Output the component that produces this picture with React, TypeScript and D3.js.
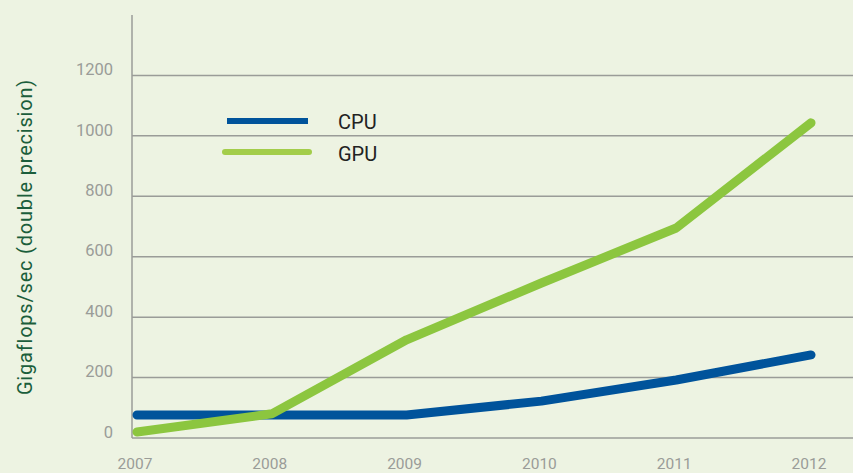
import * as d3 from "d3";

const years = [2007, 2008, 2009, 2010, 2011, 2012];
const cpuValues = [76, 76, 76, 122, 192, 275];
const gpuValues = [20, 80, 325, 513, 695, 1043];
const yTicks = [0, 200, 400, 600, 800, 1000, 1200];

const W = 853;
const H = 473;

const App = () => {
  const x = d3.scaleLinear().domain([2007, 2012]).range([137, 811]);
  const y = d3.scaleLinear().domain([0, 1400]).range([438, 15]);

  const line = d3
    .line<number>()
    .x((_, i) => x(years[i]))
    .y((d) => y(d));

  const font = "Roboto, 'DejaVu Sans', sans-serif";

  return (
    <svg
      width={W}
      height={H}
      style={{ position: "absolute", left: 0, top: 0 }}
      fontFamily={font}
    >
      <rect width={W} height={H} fill="#edf3e2" />

      {/* gridlines */}
      {yTicks.map((t) => (
        <g key={t}>
          <line x1={132} x2={W} y1={y(t)} y2={y(t)} stroke="#9a9c98" strokeWidth={1.5} />
          <text
            x={113}
            y={y(t)}
            dy="-0.02em"
            textAnchor="end"
            fontSize={16.5}
            fill="#9a9c98"
          >
            {t}
          </text>
        </g>
      ))}
      <line x1={132} x2={132} y1={y(1400)} y2={y(0)} stroke="#9a9c98" strokeWidth={1.5} />

      {years.map((yr) => (
        <text
          key={yr}
          x={x(yr) - 2}
          y={469}
          textAnchor="middle"
          fontSize={15.5}
          fill="#9a9c98"
        >
          {yr}
        </text>
      ))}

      <text
        transform="translate(32,237) rotate(-90)"
        textAnchor="middle"
        fontSize={20}
        fill="#1b5e3b"
        letterSpacing={0.8}
      >
        Gigaflops/sec (double precision)
      </text>

      <path
        d={line(cpuValues) ?? ""}
        fill="none"
        stroke="#00539b"
        strokeWidth={9}
        strokeLinecap="round"
        strokeLinejoin="round"
      />
      <path
        d={line(gpuValues) ?? ""}
        fill="none"
        stroke="#8cc63f"
        strokeWidth={9}
        strokeLinecap="round"
        strokeLinejoin="round"
      />

      {/* legend */}
      <line x1={227} x2={308} y1={121} y2={121} stroke="#00539b" strokeWidth={6} />
      <text x={338} y={129} fontSize={20} fill="#222">CPU</text>
      <line x1={225} x2={309} y1={152} y2={152} stroke="#a3cd4a" strokeWidth={6} strokeLinecap="round" />
      <text x={338} y={161} fontSize={20} fill="#222">GPU</text>
    </svg>
  );
};

export default App;
